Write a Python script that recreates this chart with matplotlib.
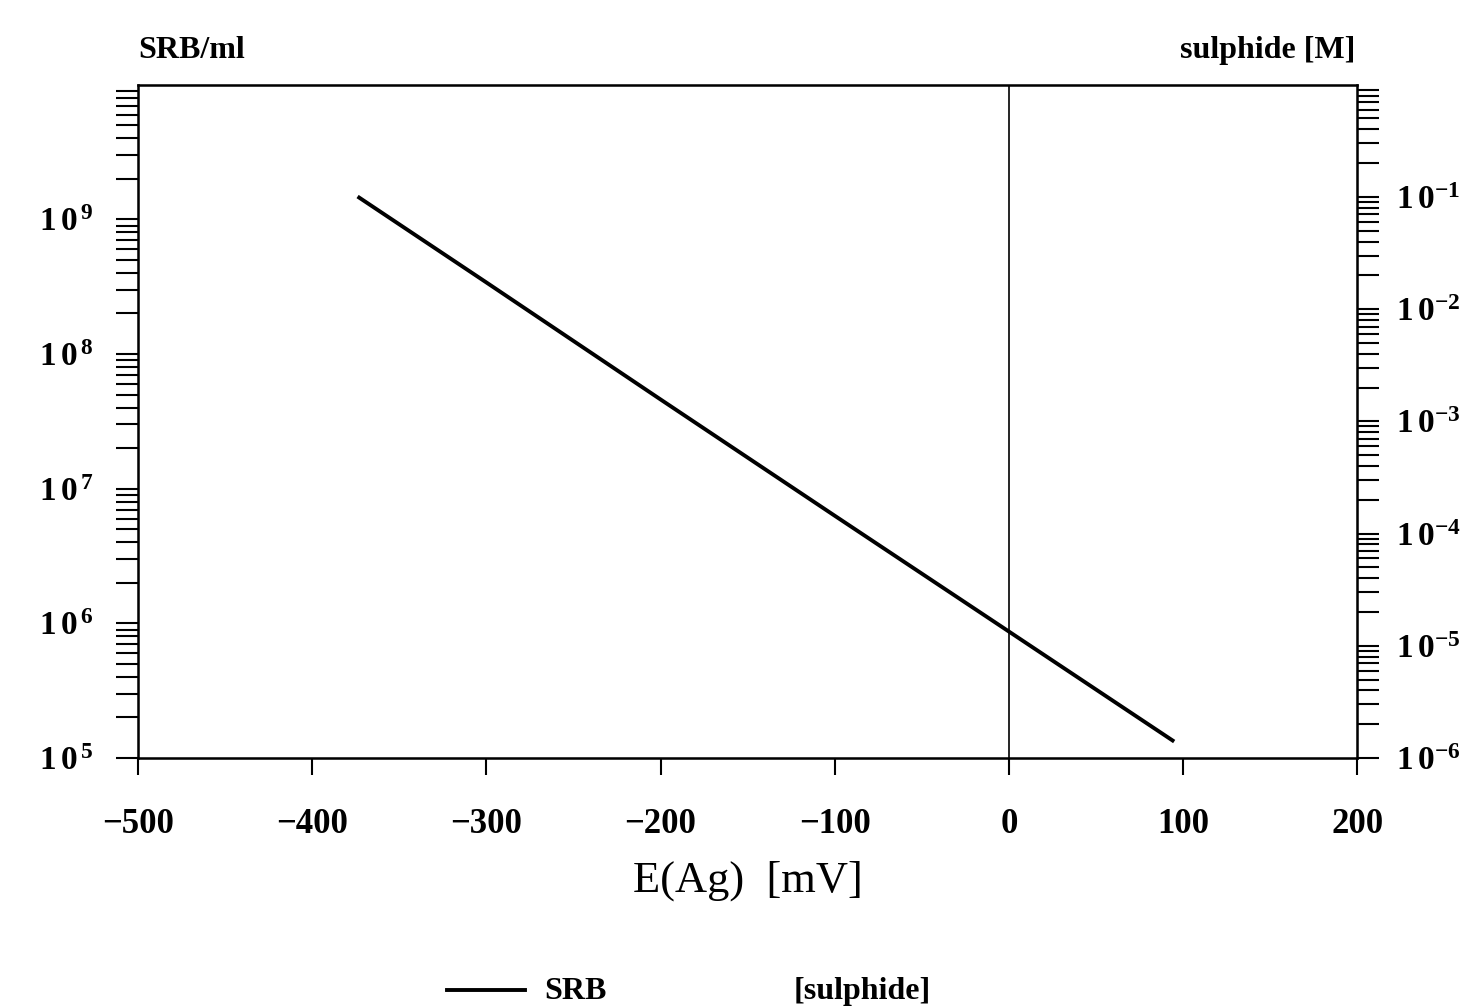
import matplotlib
matplotlib.use("Agg")
from matplotlib import pyplot as plt
from matplotlib.ticker import LogLocator, FixedLocator, FixedFormatter, NullFormatter

# datos
potencial = [-373, -300, -200, -100, 0, 94]          # E(Ag) [mV]
srb = [1.45e9, 3.4e8, 4.6e7, 6.3e6, 8.7e5, 1.35e5]   # SRB/ml
xticks = [-500, -400, -300, -200, -100, 0, 100, 200]
izq_ticks = [1e5, 1e6, 1e7, 1e8, 1e9]
izq_labels = [r'$1\,0^{\,%d}$' % n for n in [5, 6, 7, 8, 9]]
der_ticks = [1e-6, 1e-5, 1e-4, 1e-3, 1e-2, 1e-1]
der_labels = [r'$1\,0^{-%d}$' % n for n in [6, 5, 4, 3, 2, 1]]

plt.rcParams['font.family'] = ['Liberation Serif', 'DejaVu Serif']
plt.rcParams['font.weight'] = 'bold'
plt.rcParams['mathtext.fontset'] = 'custom'
plt.rcParams['mathtext.rm'] = 'Liberation Serif:bold'
plt.rcParams['mathtext.it'] = 'Liberation Serif:bold'
plt.rcParams['mathtext.bf'] = 'Liberation Serif:bold'

fig = plt.figure(figsize=(14.76, 10.08), dpi=100)
ax = fig.add_axes([0.0935, 0.248, 0.826, 0.668])

linea, = ax.plot(potencial, srb, color='black', lw=2.8)
ax.axvline(0, color='black', lw=1.2)

ax.set_xlim(-500, 200)
ax.set_yscale('log')
ax.set_ylim(1e5, 1e10)
ax.set_xticks(xticks)
ax.set_xticklabels([str(t).replace('-', '\u2212') for t in xticks])
ax.yaxis.set_major_locator(FixedLocator(izq_ticks))
ax.yaxis.set_major_formatter(FixedFormatter(izq_labels))
ax.yaxis.set_minor_locator(LogLocator(base=10, subs=range(2, 10), numticks=20))
ax.yaxis.set_minor_formatter(NullFormatter())
ax.tick_params(axis='x', direction='out', length=12, width=1.5, pad=24, labelsize=25)
ax.tick_params(axis='y', which='major', direction='out', length=16, width=1.5, pad=16, labelsize=24)
ax.tick_params(axis='y', which='minor', direction='out', length=16, width=1.5)
for s in ax.spines.values():
    s.set_linewidth(1.8)

ax2 = ax.twinx()
ax2.set_yscale('log')
ax2.set_ylim(1e-6, 1e0)
ax2.yaxis.set_major_locator(FixedLocator(der_ticks))
ax2.yaxis.set_major_formatter(FixedFormatter(der_labels))
ax2.yaxis.set_minor_locator(LogLocator(base=10, subs=range(2, 10), numticks=20))
ax2.yaxis.set_minor_formatter(NullFormatter())
ax2.tick_params(axis='y', which='major', direction='out', length=16, width=1.5, pad=12, labelsize=24)
ax2.tick_params(axis='y', which='minor', direction='out', length=16, width=1.5)

ax.set_xlabel('E(Ag)  [mV]', fontsize=32, fontweight='normal', labelpad=14)
fig.text(0.094, 0.95, 'SRB/ml', fontsize=23, ha='left', va='center')
fig.text(0.918, 0.95, 'sulphide [M]', fontsize=23, ha='right', va='center')

# leyenda
fig.lines.append(plt.Line2D([0.303, 0.356], [0.018, 0.018], color='black', lw=2.8,
                            transform=fig.transFigure))
fig.text(0.369, 0.016, 'SRB', fontsize=23, ha='left', va='center')
fig.text(0.538, 0.016, '[sulphide]', fontsize=23, ha='left', va='center')

plt.savefig('out.png', dpi=100)
